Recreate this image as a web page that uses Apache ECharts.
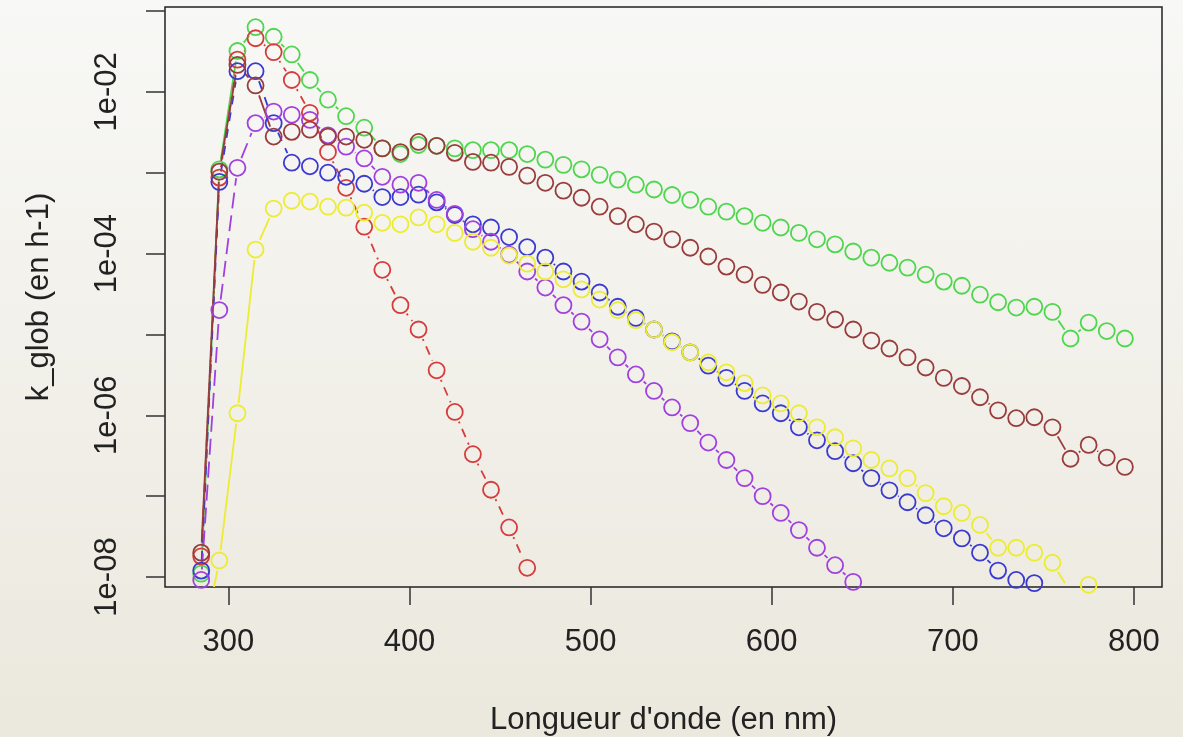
<!DOCTYPE html>
<html>
<head>
<meta charset="utf-8">
<script src="https://cdn.jsdelivr.net/npm/echarts@6/dist/echarts.min.js"></script>
<style>
html, body { margin: 0; padding: 0; }
#container { width: 1183px; height: 737px; background: linear-gradient(#f8f8f6, #ebe8dd); }
</style>
</head>
<body>
<div id="container"></div>
<script>
// longueurs d'onde (nm)
var lambda = [285, 295, 305, 315, 325, 335, 345, 355, 365, 375, 385, 395, 405, 415, 425, 435, 445, 455, 465, 475,
    485, 495, 505, 515, 525, 535, 545, 555, 565, 575, 585, 595, 605, 615, 625, 635, 645, 655, 665, 675,
    685, 695, 705, 715, 725, 735, 745, 755, 765, 775, 785, 795];

// k_glob (en h-1), une liste par courbe
var kGreen = [1.1e-8, 1.1e-3, 3.2e-2, 6.3e-2, 4.8e-2, 2.9e-2, 1.4e-2, 8.0e-3, 5.0e-3, 3.6e-3, 2.0e-3, 1.7e-3, 2.2e-3, 2.15e-3,
    2.0e-3, 1.9e-3, 1.9e-3, 1.9e-3, 1.7e-3, 1.45e-3, 1.25e-3, 1.1e-3, 9.4e-4, 8.2e-4, 7.1e-4, 6.2e-4, 5.3e-4, 4.6e-4,
    3.8e-4, 3.3e-4, 2.9e-4, 2.4e-4, 2.1e-4, 1.8e-4, 1.5e-4, 1.3e-4, 1.06e-4, 8.9e-5, 7.7e-5, 6.7e-5, 5.5e-5, 4.5e-5,
    4.0e-5, 3.1e-5, 2.5e-5, 2.15e-5, 2.2e-5, 1.9e-5, 8.9e-6, 1.4e-5, 1.1e-5, 8.9e-6];
var kRed = [1.8e-8, 8.7e-4, 2.5e-2, 4.6e-2, 3.1e-2, 1.4e-2, 5.5e-3, 1.8e-3, 6.5e-4, 2.15e-4, 6.3e-5, 2.3e-5, 1.15e-5, 3.6e-6,
    1.1e-6, 3.3e-7, 1.2e-7, 4.1e-8, 1.3e-8, null, null, null, null, null, null, null, null, null, null, null, null, null,
    null, null, null, null, null, null, null, null, null, null, null, null, null, null, null, null, null, null, null, null];
var kBlue = [1.2e-8, 7.7e-4, 1.8e-2, 1.8e-2, 4.1e-3, 1.33e-3, 1.2e-3, 1.0e-3, 8.9e-4, 7.3e-4, 5.0e-4, 5.0e-4, 5.35e-4, 4.3e-4,
    3.0e-4, 2.3e-4, 2.1e-4, 1.6e-4, 1.2e-4, 8.9e-5, 6.0e-5, 4.5e-5, 3.3e-5, 2.2e-5, 1.6e-5, 1.15e-5, 8.2e-6, 6.0e-6,
    4.1e-6, 2.9e-6, 2.0e-6, 1.4e-6, 1.06e-6, 7.1e-7, 4.9e-7, 3.6e-7, 2.55e-7, 1.67e-7, 1.18e-7, 8.4e-8, 5.8e-8, 4.0e-8,
    3.0e-8, 2.0e-8, 1.2e-8, 9.2e-9, 8.4e-9, null, null, null, null, null];
var kPurple = [9.2e-9, 2.0e-5, 1.15e-3, 4.1e-3, 5.7e-3, 5.2e-3, 4.5e-3, 2.9e-3, 2.1e-3, 1.5e-3, 8.9e-4, 7.1e-4, 7.5e-4, 4.6e-4,
    3.1e-4, 2.0e-4, 1.4e-4, 9.7e-5, 6.0e-5, 3.8e-5, 2.3e-5, 1.44e-5, 8.7e-6, 5.2e-6, 3.2e-6, 2.0e-6, 1.25e-6, 8.0e-7,
    4.6e-7, 2.8e-7, 1.67e-7, 1.0e-7, 6.2e-8, 3.8e-8, 2.3e-8, 1.4e-8, 8.7e-9, null, null, null, null, null, null, null,
    null, null, null, null, null, null, null, null];
var kBrown = [2.0e-8, 1.03e-3, 2.15e-2, 1.2e-2, 2.8e-3, 3.2e-3, 3.4e-3, 2.8e-3, 2.8e-3, 2.55e-3, 2.0e-3, 1.8e-3, 2.4e-3, 2.15e-3,
    1.76e-3, 1.36e-3, 1.33e-3, 1.18e-3, 9.2e-4, 7.5e-4, 6.0e-4, 4.9e-4, 3.8e-4, 2.9e-4, 2.3e-4, 1.87e-4, 1.5e-4, 1.18e-4,
    9.2e-5, 6.9e-5, 5.5e-5, 4.1e-5, 3.3e-5, 2.55e-5, 1.9e-5, 1.53e-5, 1.15e-5, 8.4e-6, 6.7e-6, 5.2e-6, 3.9e-6, 2.9e-6,
    2.3e-6, 1.67e-6, 1.15e-6, 9.2e-7, 9.45e-7, 7.1e-7, 2.9e-7, 4.3e-7, 3.0e-7, 2.3e-7];
var kYellow = [1.2e-9, 1.6e-8, 1.06e-6, 1.12e-4, 3.6e-4, 4.5e-4, 4.4e-4, 3.8e-4, 3.7e-4, 3.2e-4, 2.4e-4, 2.3e-4, 2.8e-4, 2.3e-4,
    1.8e-4, 1.4e-4, 1.18e-4, 9.45e-5, 7.5e-5, 6.0e-5, 4.8e-5, 3.6e-5, 2.7e-5, 2.0e-5, 1.5e-5, 1.15e-5, 8.0e-6, 6.0e-6,
    4.5e-6, 3.4e-6, 2.5e-6, 1.76e-6, 1.4e-6, 1.06e-6, 7.1e-7, 5.35e-7, 3.9e-7, 2.8e-7, 2.2e-7, 1.67e-7, 1.09e-7, 7.5e-8,
    6.2e-8, 4.4e-8, 2.3e-8, 2.3e-8, 2.0e-8, 1.5e-8, 6.5e-9, 8.0e-9, null, null];

// graduations
var xTicks = [300, 400, 500, 600, 700, 800];
var yTicks = [1e-8, 1e-7, 1e-6, 1e-5, 1e-4, 1e-3, 1e-2, 1e-1];
var yLabels = [1e-8, 1e-6, 1e-4, 1e-2];

var FONT = 'Liberation Sans, Arial, Helvetica, sans-serif';
var GAP = 10.5; // trou autour des points (type "b" de R)

var courbes = [
    { vals: kGreen,  color: '#4fd64f', dash: null },
    { vals: kRed,    color: '#d63c3c', dash: [2, 6, 9, 6] },
    { vals: kBlue,   color: '#3a3ad2', dash: [9, 8] },
    { vals: kPurple, color: '#a040e0', dash: [16, 7] },
    { vals: kBrown,  color: '#983c3c', dash: null },
    { vals: kYellow, color: '#ecec32', dash: null }
];

function lignes(c) {
    return {
        type: 'custom',
        clip: true,
        silent: true,
        z: 1,
        data: lambda.map(function (l, i) { return [l, c.vals[i]]; }),
        renderItem: function (params, api) {
            var i = params.dataIndex;
            if (i >= lambda.length - 1 || c.vals[i] == null || c.vals[i + 1] == null) return;
            var a = api.coord([lambda[i], c.vals[i]]);
            var b = api.coord([lambda[i + 1], c.vals[i + 1]]);
            var dx = b[0] - a[0], dy = b[1] - a[1];
            var d = Math.sqrt(dx * dx + dy * dy);
            var f = GAP / d;
            if (f >= 0.5) return;
            return {
                type: 'line',
                shape: { x1: a[0] + f * dx, y1: a[1] + f * dy, x2: b[0] - f * dx, y2: b[1] - f * dy },
                style: { stroke: c.color, lineWidth: 1.8, lineDash: c.dash }
            };
        }
    };
}

function points(c) {
    return {
        type: 'scatter',
        clip: true,
        z: 2,
        symbol: 'circle',
        symbolSize: 16,
        itemStyle: { color: 'rgba(0,0,0,0)', borderColor: c.color, borderWidth: 1.8, opacity: 1 },
        data: lambda.map(function (l, i) { return [l, c.vals[i]]; })
    };
}

var series = [];
courbes.forEach(function (c) { series.push(lignes(c)); });
courbes.forEach(function (c) { series.push(points(c)); });

var dom = document.getElementById('container');
var myChart = echarts.init(dom);
var option = {
    backgroundColor: 'transparent',
    animation: false,
    grid: {
        left: 165, right: 21, top: 7, bottom: 150,
        containLabel: false,
        outerBoundsMode: 'none',
        show: true,
        borderColor: '#222',
        borderWidth: 1.5,
        backgroundColor: 'transparent'
    },
    xAxis: {
        type: 'value',
        min: 265,
        max: 815.5,
        axisLine: { show: false },
        splitLine: { show: false },
        axisTick: { show: true, length: 18, customValues: xTicks, lineStyle: { color: '#333', width: 1.5 } },
        axisLabel: { customValues: xTicks, margin: 40, fontSize: 31, color: '#222', fontFamily: FONT },
        name: "Longueur d'onde (en nm)",
        nameLocation: 'middle',
        nameGap: 118,
        nameTextStyle: { fontSize: 31, color: '#222', fontFamily: FONT }
    },
    yAxis: {
        type: 'log',
        logBase: 10,
        min: 7.52e-9,
        max: 0.112,
        axisLine: { show: false },
        splitLine: { show: false },
        axisTick: { show: true, length: 19, customValues: yTicks, lineStyle: { color: '#333', width: 1.5 } },
        axisLabel: {
            customValues: yLabels,
            rotate: 90,
            margin: 42,
            fontSize: 31,
            color: '#222',
            fontFamily: FONT,
            formatter: function (v) {
                var e = v > 0 ? Math.round(Math.log10(v)) : Math.round(v);
                return '1e-0' + (-e);
            }
        },
        name: 'k_glob (en h-1)',
        nameLocation: 'middle',
        nameGap: 110,
        nameTextStyle: { fontSize: 31, color: '#222', fontFamily: FONT }
    },
    series: series
};
if (option && typeof option === 'object') {
    myChart.setOption(option, true);
}
</script>
</body>
</html>
